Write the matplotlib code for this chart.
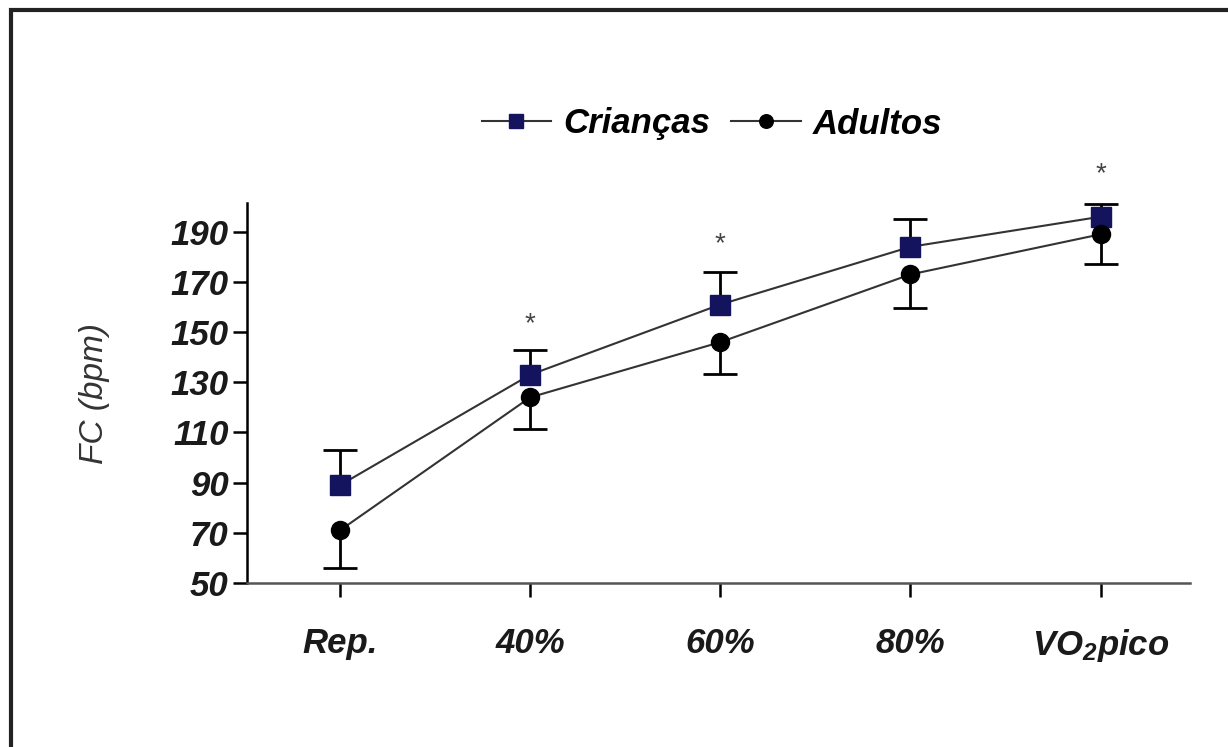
# FC (bpm) em repouso e em diferentes intensidades: crianças vs adultos
import numpy as np
import matplotlib.pyplot as plt
from matplotlib.patches import Rectangle

# Dados
etapas = ['Rep.', '40%', '60%', '80%', 'VO$_2$pico']
criancas = [89, 133, 161, 184, 196]
criancas_dp = [14, 10, 13, 11, 5]
adultos = [71, 124, 146, 173, 189]
adultos_dp = [15, 12.5, 12.5, 13.5, 12]
# posição dos asteriscos (diferença significativa)
sig_idx = [1, 2, 4]
sig_y = [153, 185, 213]

plt.rcParams['font.family'] = ['Liberation Sans', 'DejaVu Sans']
plt.rcParams['mathtext.default'] = 'regular'

fig = plt.figure(figsize=(12.28, 7.47), dpi=100)
ax = fig.add_axes([0.201, 0.2195, 0.768, 0.5085])

x = np.arange(len(etapas))
navy = '#14145e'
linha = '#333333'

# Crianças: erro só para cima; Adultos: só para baixo
eb1 = ax.errorbar(x, criancas, yerr=[np.zeros(len(x)), criancas_dp], fmt='none',
                  ecolor='black', elinewidth=2, capsize=12, capthick=2, zorder=2)
eb1[1][0].set_visible(False)
eb2 = ax.errorbar(x, adultos, yerr=[adultos_dp, np.zeros(len(x))], fmt='none',
                  ecolor='black', elinewidth=2, capsize=12, capthick=2, zorder=2)
eb2[1][1].set_visible(False)
ax.plot(x, criancas, color=linha, lw=1.5, marker='s', ms=14,
        mfc=navy, mec=navy, label='Crianças', zorder=3)
ax.plot(x, adultos, color=linha, lw=1.5, marker='o', ms=13,
        mfc='black', mec='black', label='Adultos', zorder=3)

for i, yy in zip(sig_idx, sig_y):
    ax.text(x[i], yy, '*', ha='center', va='center', fontsize=20,
            color='#444444', clip_on=False)

ax.set_xlim(-0.49, 4.47)
ax.set_ylim(50, 201.4)
ax.set_yticks(np.arange(50, 191, 20))
ax.set_xticks(x)
ax.set_xticklabels(etapas)

for s in ['top', 'right']:
    ax.spines[s].set_visible(False)
ax.spines['left'].set_linewidth(1.8)
ax.spines['bottom'].set_linewidth(1.8)
ax.spines['bottom'].set_color('#555555')
ax.tick_params(axis='both', direction='out', length=10, width=1.8)
ax.tick_params(axis='x', pad=22)
ax.tick_params(axis='y', pad=3)
for lab in ax.get_xticklabels() + ax.get_yticklabels():
    lab.set_fontsize(25)
    lab.set_fontweight('bold')
    lab.set_fontstyle('italic')
    lab.set_color('#1a1a1a')

ax.set_ylabel('FC (bpm)', fontsize=24, fontstyle='italic', color='#333333',
              labelpad=44)

fig.legend(loc='center', bbox_to_anchor=(712 / 1228, 1 - 124 / 747), ncol=2,
           frameon=False, handlelength=2.0, columnspacing=0.6, handletextpad=0.35,
           markerscale=0.75,
           prop={'size': 25, 'weight': 'bold', 'style': 'italic'})

# moldura externa
fig.patches.append(Rectangle((0.009, -0.1), 1.2, 1.087, transform=fig.transFigure,
                             fill=False, lw=3, edgecolor='#222222'))

fig.savefig('out.png', dpi=100)
